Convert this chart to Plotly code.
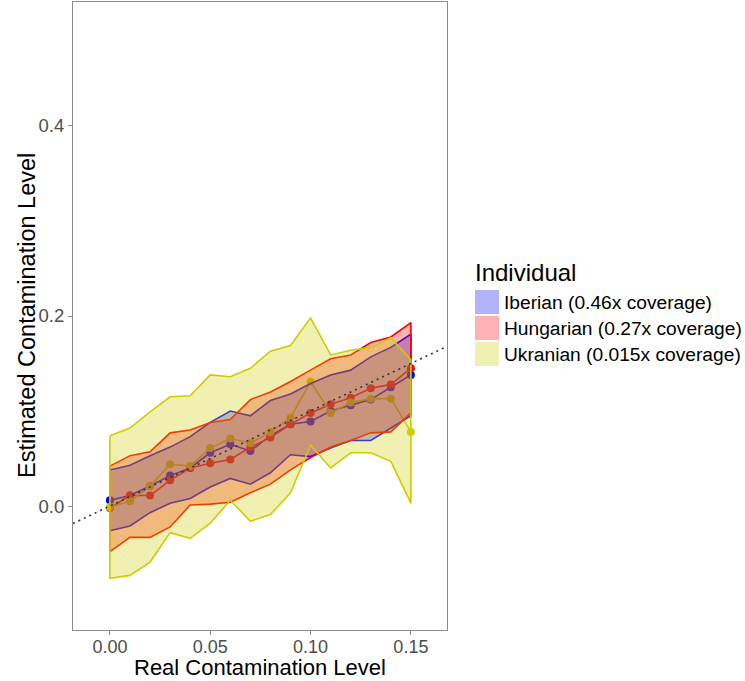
import plotly.graph_objects as go

real = [0.00, 0.01, 0.02, 0.03, 0.04, 0.05, 0.06, 0.07, 0.08, 0.09, 0.10, 0.11, 0.12, 0.13, 0.14, 0.15]

iberian_mean = [0.006, 0.011, 0.021, 0.032, 0.040, 0.056, 0.065, 0.058, 0.074, 0.086, 0.089, 0.100, 0.106, 0.112, 0.125, 0.138]
iberian_upper = [0.038, 0.043, 0.053, 0.062, 0.073, 0.088, 0.100, 0.095, 0.111, 0.118, 0.129, 0.138, 0.143, 0.157, 0.167, 0.181]
iberian_lower = [-0.026, -0.021, -0.007, 0.003, 0.008, 0.020, 0.029, 0.023, 0.035, 0.054, 0.052, 0.061, 0.069, 0.069, 0.082, 0.095]

hungarian_mean = [-0.002, 0.011, 0.011, 0.027, 0.040, 0.045, 0.049, 0.062, 0.072, 0.086, 0.098, 0.107, 0.114, 0.124, 0.128, 0.145]
hungarian_upper = [0.042, 0.053, 0.057, 0.077, 0.080, 0.088, 0.091, 0.112, 0.120, 0.131, 0.143, 0.155, 0.159, 0.172, 0.178, 0.193]
hungarian_lower = [-0.048, -0.033, -0.033, -0.022, 0.001, 0.002, 0.004, 0.014, 0.023, 0.038, 0.051, 0.062, 0.069, 0.077, 0.078, 0.098]

ukranian_mean = [-0.001, 0.005, 0.021, 0.044, 0.042, 0.061, 0.071, 0.066, 0.078, 0.093, 0.131, 0.098, 0.109, 0.113, 0.113, 0.078]
ukranian_upper = [0.074, 0.082, 0.099, 0.115, 0.116, 0.138, 0.136, 0.145, 0.163, 0.169, 0.198, 0.159, 0.164, 0.167, 0.177, 0.154]
ukranian_lower = [-0.076, -0.073, -0.059, -0.028, -0.034, -0.018, 0.006, -0.016, -0.009, 0.014, 0.064, 0.040, 0.056, 0.056, 0.047, 0.003]

labels = ["Iberian (0.46x coverage)", "Hungarian (0.27x coverage)", "Ukranian (0.015x coverage)"]
colors = ["#0000FF", "#FF0000", "#CDCD00"]
fills = ["rgba(0,0,255,0.3)", "rgba(255,0,0,0.3)", "rgba(205,205,0,0.3)"]

series = [
    (iberian_mean, iberian_upper, iberian_lower),
    (hungarian_mean, hungarian_upper, hungarian_lower),
    (ukranian_mean, ukranian_upper, ukranian_lower),
]

x_range = [-0.0184, 0.168]
y_range = [-0.1305, 0.5305]

fig = go.Figure()

# mean lines with points (drawn beneath the ribbons)
for (m, u, l), c, lab in zip(series, colors, labels):
    fig.add_trace(go.Scatter(x=real, y=m, mode="lines+markers",
                             line=dict(color=c, width=1.6),
                             marker=dict(color=c, size=8),
                             showlegend=False, name=lab))

# ribbons
for (m, u, l), c, f, lab in zip(series, colors, fills, labels):
    px = real + real[::-1] + [real[0]]
    py = u + l[::-1] + [u[0]]
    fig.add_trace(go.Scatter(x=px, y=py, mode="lines", fill="toself",
                             fillcolor=f, line=dict(color=c, width=1.6),
                             showlegend=False, name=lab))

# identity line
fig.add_trace(go.Scatter(x=x_range, y=x_range, mode="lines",
                         line=dict(color="#333333", width=1.6, dash="2px,4px"),
                         showlegend=False, hoverinfo="skip"))

W, H = 745, 681
L, R, T, B = 73, 447, 2, 630


def pxx(p):
    return (p - L) / (R - L)


def pxy(p):
    return (B - p) / (B - T)


FONT = "Liberation Sans, Arial, Helvetica"
shapes = []
annotations = []
annotations.append(dict(x=pxx(473), y=pxy(272), xref="paper", yref="paper",
                        text="Individual", showarrow=False, xanchor="left", yanchor="middle",
                        font=dict(family=FONT, size=24, color="#000000")))
key_tops = [290, 316, 342]
for kt, f, lab in zip(key_tops, fills, labels):
    shapes.append(dict(type="rect", xref="paper", yref="paper",
                       x0=pxx(475), x1=pxx(499), y0=pxy(kt + 24), y1=pxy(kt),
                       fillcolor=f, line=dict(width=0), layer="above"))
    annotations.append(dict(x=pxx(502), y=pxy(kt + 12), xref="paper", yref="paper",
                            text=lab, showarrow=False, xanchor="left", yanchor="middle",
                            font=dict(family=FONT, size=19.2, color="#000000")))

# axis titles placed as annotations for exact positioning
annotations.append(dict(x=0.5, y=pxy(681), xref="paper", yref="paper",
                        text="Real Contamination Level", showarrow=False,
                        xanchor="center", yanchor="bottom", borderpad=0,
                        font=dict(family=FONT, size=22, color="#000000")))
annotations.append(dict(x=pxx(27), y=pxy(316), xref="paper", yref="paper",
                        text="Estimated Contamination Level", showarrow=False, textangle=-90,
                        xanchor="center", yanchor="middle",
                        font=dict(family=FONT, size=23.5, color="#000000")))

fig.update_layout(
    width=W, height=H,
    margin=dict(l=L, r=W - R, t=T, b=H - B, pad=0),
    paper_bgcolor="white", plot_bgcolor="white",
    shapes=shapes, annotations=annotations,
    showlegend=False,
    font=dict(family=FONT),
)

fig.update_xaxes(range=x_range, tickvals=[0, 0.05, 0.1, 0.15],
                 ticktext=["0.00", "0.05", "0.10", "0.15"],
                 showgrid=False, zeroline=False,
                 showline=True, mirror=True, linecolor="#8C8C8C", linewidth=1,
                 ticks="outside", ticklen=4, tickcolor="#8C8C8C",
                 ticklabelstandoff=-4,
                 tickfont=dict(size=18, color="#4D4D4D"))
fig.update_yaxes(range=y_range, tickvals=[0, 0.2, 0.4],
                 ticktext=["0.0", "0.2", "0.4"],
                 showgrid=False, zeroline=False,
                 showline=True, mirror=True, linecolor="#8C8C8C", linewidth=1,
                 ticks="outside", ticklen=4, tickcolor="#8C8C8C",
                 tickfont=dict(size=18.5, color="#4D4D4D"))

fig.write_html("out.html", config={"displayModeBar": False},
               post_script="document.body.style.margin='0';document.body.style.padding='0';")
